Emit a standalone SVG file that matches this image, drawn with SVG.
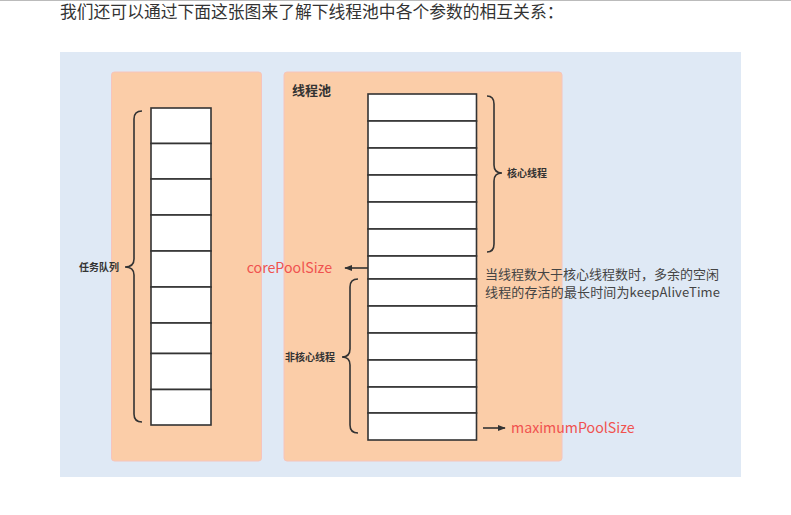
<svg xmlns="http://www.w3.org/2000/svg" width="791" height="515" viewBox="0 0 791 515">
<style>
.cjk{font-family:"Noto Sans CJK SC","Noto Sans",sans-serif}
.cell{fill:#fff;stroke:#333;stroke-width:1.6}
.brace{fill:none;stroke:#333;stroke-width:1.6}
.lbl{font-size:10px;font-weight:bold;fill:#333}
.red{font-size:14.2px;fill:#f0524f}
.panel{fill:#fbcda8;stroke:#f6c4bc;stroke-width:1}
</style>
<defs>
<marker id="ah" viewBox="0 0 10 10" refX="9" refY="5" markerWidth="8" markerHeight="8" markerUnits="userSpaceOnUse" orient="auto">
<path d="M0,1 L10,5 L0,9 z" fill="#333"/>
</marker>
</defs>
<rect x="0" y="0" width="791" height="515" fill="#fff"/>
<line x1="0" y1="0.5" x2="791" y2="0.5" stroke="#bbb" stroke-width="1"/>
<text class="cjk" x="60" y="18" font-size="16.8" fill="#333">我们还可以通过下面这张图来了解下线程池中各个参数的相互关系：</text>
<rect x="60" y="52" width="681" height="425" fill="#dfe9f5"/>
<g id="taskQueue">
<rect class="panel" x="111.5" y="72" width="150" height="389" rx="3"/>
<rect class="cell" x="151" y="108" width="60" height="35.5"/>
<rect class="cell" x="151" y="143.5" width="60" height="35.5"/>
<rect class="cell" x="151" y="179" width="60" height="36"/>
<rect class="cell" x="151" y="215" width="60" height="36"/>
<rect class="cell" x="151" y="251" width="60" height="36"/>
<rect class="cell" x="151" y="287" width="60" height="36"/>
<rect class="cell" x="151" y="323" width="60" height="30.5"/>
<rect class="cell" x="151" y="353.5" width="60" height="36"/>
<rect class="cell" x="151" y="389.5" width="60" height="35.5"/>
<path class="brace" d="M142,111 Q134,111 134,119 L134,259 Q134,267 125,267 Q134,267 134,275 L134,414 Q134,422 142,422"/>
<text class="cjk lbl" x="119" y="271" text-anchor="end">任务队列</text>
</g>
<g id="threadPool">
<rect class="panel" x="284" y="72" width="278" height="389" rx="3"/>
<text class="cjk" x="292" y="95" font-size="13" font-weight="bold" fill="#333">线程池</text>
<rect class="cell" x="368" y="94" width="108.5" height="27"/>
<rect class="cell" x="368" y="121" width="108.5" height="27"/>
<rect class="cell" x="368" y="148" width="108.5" height="27"/>
<rect class="cell" x="368" y="175" width="108.5" height="27"/>
<rect class="cell" x="368" y="202" width="108.5" height="27"/>
<rect class="cell" x="368" y="229" width="108.5" height="27"/>
<rect class="cell" x="368" y="256" width="108.5" height="23"/>
<rect class="cell" x="368" y="279" width="108.5" height="27"/>
<rect class="cell" x="368" y="306" width="108.5" height="27"/>
<rect class="cell" x="368" y="333" width="108.5" height="27"/>
<rect class="cell" x="368" y="360" width="108.5" height="27"/>
<rect class="cell" x="368" y="387" width="108.5" height="26"/>
<rect class="cell" x="368" y="413" width="108.5" height="27"/>
</g>
<g id="coreThreads">
<path class="brace" d="M487,96 Q494,96 494,104 L494,165 Q494,173 502,173 Q494,173 494,181 L494,244 Q494,252 487,252"/>
<text class="cjk lbl" x="507" y="177">核心线程</text>
</g>
<g id="nonCoreThreads">
<path class="brace" d="M358,279 Q350,279 350,287 L350,349 Q350,357 342,357 Q350,357 350,365 L350,425 Q350,433 358,433"/>
<text class="cjk lbl" x="335" y="361" text-anchor="end">非核心线程</text>
</g>
<g id="corePoolSize">
<text class="cjk red" x="332" y="273" text-anchor="end">corePoolSize</text>
</g>
<g id="maximumPoolSize">
<text class="cjk red" x="511" y="433">maximumPoolSize</text>
</g>
<g id="keepAlive">
<text class="cjk" font-size="13" fill="#444"><tspan x="485" y="279">当线程数大于核心线程数时，多余的空闲</tspan><tspan x="485" y="297" textLength="235">线程的存活的最长时间为keepAliveTime</tspan></text>
</g>
<g id="connectors">
<line x1="368" y1="268" x2="345" y2="268" stroke="#333" stroke-width="1.6" marker-end="url(#ah)"/>
<line x1="483" y1="428" x2="505" y2="428" stroke="#333" stroke-width="1.6" marker-end="url(#ah)"/>
</g>
</svg>
